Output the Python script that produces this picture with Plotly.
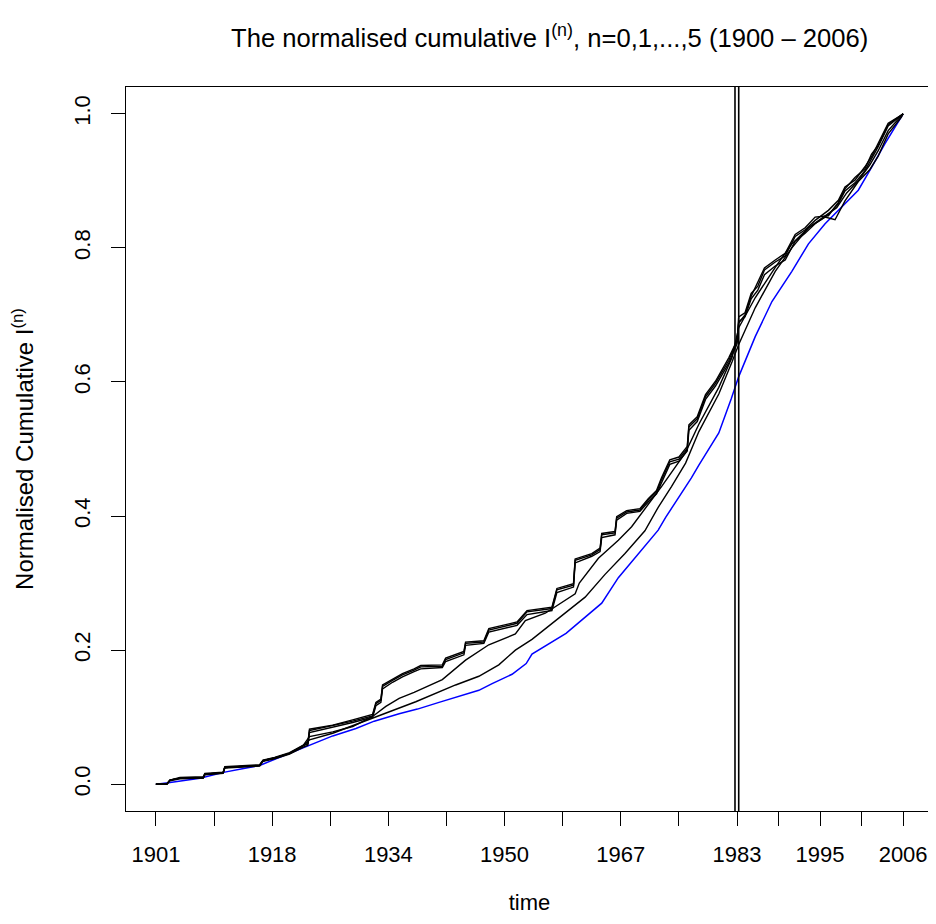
import plotly.graph_objects as go

# x is the event index along the time axis; years are only tick labels
tick_pos = [0, 7, 14, 21, 28, 35, 42, 49, 56, 63, 70, 75, 80, 85, 90]
tick_text = ["1901", "", "1918", "", "1934", "", "1950", "", "1967", "", "1983",
             "", "1995", "", "2006"]
y_ticks = [0.0, 0.2, 0.4, 0.6, 0.8, 1.0]
break_points = [69.75, 70.2]

# n = 3, 4, 5 (the stepped curves, nearly on top of each other)
x_top = [0, 1.3, 1.7, 2.9, 5.7, 5.9, 8.1, 8.3, 12.5, 12.9, 14.3, 16.1, 17.7, 18.3, 18.5,
         21.3, 23.7, 26.1, 26.5, 27.1, 27.3, 28.5, 29.7, 31.1, 31.9, 34.5, 34.9, 37.1,
         37.3, 39.5, 40.1, 43.5, 44.7, 47.7, 48.3, 50.3, 50.5, 52.5, 53.5, 53.7, 55.3,
         55.5, 56.7, 58.3, 59.3, 60.3, 60.9, 61.9, 63.0, 64.0, 64.2, 65.2, 66.2, 67.4,
         69.0, 69.8, 70.0, 70.2, 70.95, 71.7, 72.5, 73.3, 74.6, 75.8, 77.0, 78.2, 79.4,
         81.0, 82.2, 83.0, 84.2, 85.4, 86.2, 87.0, 88.2, 89.8, 90]
y_n3 = [0, 0, 0.006, 0.009, 0.0095, 0.015, 0.017, 0.025, 0.028, 0.035, 0.039, 0.046,
        0.057, 0.060, 0.080, 0.087, 0.094, 0.102, 0.120, 0.125, 0.146, 0.155, 0.163,
        0.170, 0.175, 0.176, 0.186, 0.196, 0.210, 0.212, 0.230, 0.240, 0.257, 0.262,
        0.290, 0.297, 0.334, 0.342, 0.350, 0.372, 0.375, 0.397, 0.406, 0.409, 0.424,
        0.436, 0.454, 0.481, 0.485, 0.501, 0.533, 0.545, 0.578, 0.598, 0.632, 0.655,
        0.660, 0.697, 0.703, 0.732, 0.743, 0.767, 0.779, 0.788, 0.817, 0.827, 0.841,
        0.856, 0.871, 0.891, 0.901, 0.921, 0.936, 0.956, 0.986, 0.998, 1.0]
y_n4 = [0, 0, 0.005, 0.008, 0.009, 0.014, 0.016, 0.024, 0.027, 0.034, 0.038, 0.045,
        0.055, 0.058, 0.077, 0.085, 0.092, 0.100, 0.117, 0.122, 0.142, 0.152, 0.160,
        0.168, 0.172, 0.174, 0.183, 0.193, 0.207, 0.210, 0.227, 0.237, 0.253, 0.259,
        0.286, 0.294, 0.330, 0.340, 0.347, 0.368, 0.372, 0.394, 0.404, 0.407, 0.421,
        0.433, 0.450, 0.477, 0.482, 0.497, 0.528, 0.541, 0.574, 0.594, 0.628, 0.651,
        0.657, 0.690, 0.697, 0.724, 0.737, 0.760, 0.773, 0.782, 0.810, 0.822, 0.836,
        0.850, 0.866, 0.885, 0.897, 0.915, 0.932, 0.951, 0.982, 0.997, 1.0]
y_n5 = [0, 0, 0.006, 0.010, 0.011, 0.016, 0.018, 0.026, 0.029, 0.036, 0.040, 0.047,
        0.058, 0.061, 0.082, 0.088, 0.096, 0.104, 0.122, 0.127, 0.148, 0.157, 0.165,
        0.172, 0.177, 0.178, 0.188, 0.198, 0.212, 0.214, 0.232, 0.242, 0.259, 0.264,
        0.292, 0.299, 0.336, 0.344, 0.352, 0.374, 0.377, 0.399, 0.408, 0.411, 0.426,
        0.438, 0.457, 0.484, 0.488, 0.504, 0.536, 0.548, 0.581, 0.601, 0.636, 0.657,
        0.662, 0.688, 0.700, 0.728, 0.748, 0.770, 0.782, 0.792, 0.820, 0.830, 0.846,
        0.848, 0.868, 0.888, 0.905, 0.918, 0.940, 0.953, 0.984, 0.999, 1.0]

# n = 1
x_n1 = [0, 1.3, 1.7, 2.9, 5.7, 5.9, 8.1, 8.3, 12.5, 12.9, 14.3, 16.1, 17.7, 18.5, 21.3,
        26.1, 29.3, 31.3, 36.1, 38.9, 41.3, 43.3, 45.3, 48.5, 51.7, 54.1, 56.5, 58.9,
        60.5, 62.1, 63.8, 65.4, 67.8, 69.4, 70.2, 72.2, 74.6, 76.6, 78.6, 80.6, 81.8,
        83.0, 84.6, 86.0, 87.0, 88.2, 89.8, 90]
y_n1 = [0, 0, 0.006, 0.009, 0.0095, 0.015, 0.017, 0.025, 0.028, 0.035, 0.039, 0.046,
        0.057, 0.066, 0.076, 0.098, 0.113, 0.123, 0.148, 0.161, 0.178, 0.200, 0.216,
        0.248, 0.279, 0.313, 0.344, 0.378, 0.413, 0.444, 0.479, 0.526, 0.582, 0.630,
        0.656, 0.711, 0.765, 0.800, 0.830, 0.846, 0.842, 0.870, 0.899, 0.917, 0.937,
        0.970, 0.995, 1.0]

# n = 2
x_n2 = [0, 1.3, 1.7, 2.9, 5.7, 5.9, 8.1, 8.3, 12.5, 12.9, 14.3, 16.1, 17.7, 18.5, 21.3,
        23.7, 26.1, 27.7, 29.3, 31.1, 34.5, 37.3, 40.1, 43.3, 44.5, 46.9, 50.5, 51.0,
        53.3, 55.7, 57.3, 59.7, 60.9, 63.8, 65.4, 67.8, 69.4, 70.2, 72.2, 74.6, 76.6,
        78.6, 80.6, 82.0, 83.2, 84.6, 86.0, 87.0, 88.2, 89.8, 90]
y_n2 = [0, 0, 0.006, 0.009, 0.0095, 0.015, 0.017, 0.025, 0.028, 0.035, 0.039, 0.046,
        0.057, 0.071, 0.078, 0.086, 0.101, 0.116, 0.128, 0.137, 0.156, 0.185, 0.208,
        0.224, 0.244, 0.255, 0.284, 0.300, 0.337, 0.364, 0.384, 0.423, 0.444, 0.495,
        0.537, 0.592, 0.637, 0.681, 0.726, 0.771, 0.806, 0.830, 0.847, 0.860, 0.882,
        0.900, 0.924, 0.945, 0.975, 0.997, 1.0]

# n = 0 (blue)
x_n0 = [0, 1.5, 5.3, 8.3, 12.5, 17.3, 19.3, 21.3, 24.1, 26.3, 29.3, 31.5, 34.1, 38.9,
        40.5, 42.9, 44.6, 45.3, 49.4, 51.8, 53.7, 55.7, 58.1, 60.5, 61.4, 63.3, 64.5,
        65.4, 67.8, 69.3, 70.2, 72.2, 74.2, 76.6, 78.6, 80.6, 82.5, 84.6, 86.2, 87.8,
        89.8, 90]
y_n0 = [0, 0.002, 0.009, 0.018, 0.028, 0.052, 0.063, 0.072, 0.083, 0.094, 0.105, 0.112,
        0.122, 0.140, 0.150, 0.164, 0.180, 0.194, 0.225, 0.250, 0.270, 0.308, 0.344,
        0.379, 0.398, 0.433, 0.457, 0.476, 0.524, 0.575, 0.608, 0.668, 0.720, 0.765,
        0.806, 0.836, 0.860, 0.886, 0.920, 0.955, 0.996, 1.0]

FONT = "Liberation Sans, Arial, Helvetica, sans-serif"

fig = go.Figure()
fig.add_trace(go.Scatter(x=x_n0, y=y_n0, mode="lines", line={"color": "#0000ff", "width": 1.5}))
for xs, ys in [(x_n1, y_n1), (x_n2, y_n2), (x_top, y_n3), (x_top, y_n4), (x_top, y_n5)]:
    fig.add_trace(go.Scatter(x=xs, y=ys, mode="lines", line={"color": "black", "width": 1.4}))

for xv in break_points:
    fig.add_shape(type="line", x0=xv, x1=xv, y0=0, y1=1, xref="x", yref="paper",
                  line={"color": "black", "width": 1.6})

axis_common = dict(
    showline=True, mirror=True, linecolor="black", linewidth=1,
    ticks="outside", ticklen=14, tickwidth=1, tickcolor="black",
    showgrid=False, zeroline=False, automargin=False,
    tickfont={"size": 22, "color": "black", "family": FONT},
)

# the page puts the figure 8px in from the top-left corner, so the figure is
# made 8px smaller to fit the 936x924 window
fig.update_layout(
    width=928,
    height=916,
    margin={"l": 118, "r": 3, "t": 79, "b": 113, "autoexpand": False},
    paper_bgcolor="white",
    plot_bgcolor="white",
    showlegend=False,
    font={"family": FONT, "color": "black"},
    title={
        "text": "The normalised cumulative I<sup>(n)</sup>, n=0,1,...,5 (1900 \u2013 2006)",
        "x": 0.525, "xref": "paper", "xanchor": "center",
        "y": 1 - 30 / 916, "yref": "container", "yanchor": "middle",
        "font": {"size": 25.6, "family": FONT, "color": "black"},
    },
    xaxis=dict(
        axis_common,
        range=[-3.6, 93.6],
        tickmode="array", tickvals=tick_pos, ticktext=tick_text,
        ticklabelstandoff=10,
        title={"text": "time", "standoff": 28, "font": {"size": 22, "family": FONT}},
    ),
    yaxis=dict(
        axis_common,
        range=[-0.04, 1.04],
        tickmode="array", tickvals=y_ticks, ticktext=[f"{v:.1f}" for v in y_ticks],
        tickangle=-90,
        ticklabelstandoff=12,
        title={"text": "Normalised Cumulative I<sup>(n)</sup>", "standoff": 30,
               "font": {"size": 24, "family": FONT}},
    ),
)

fig.write_html("out.html")
